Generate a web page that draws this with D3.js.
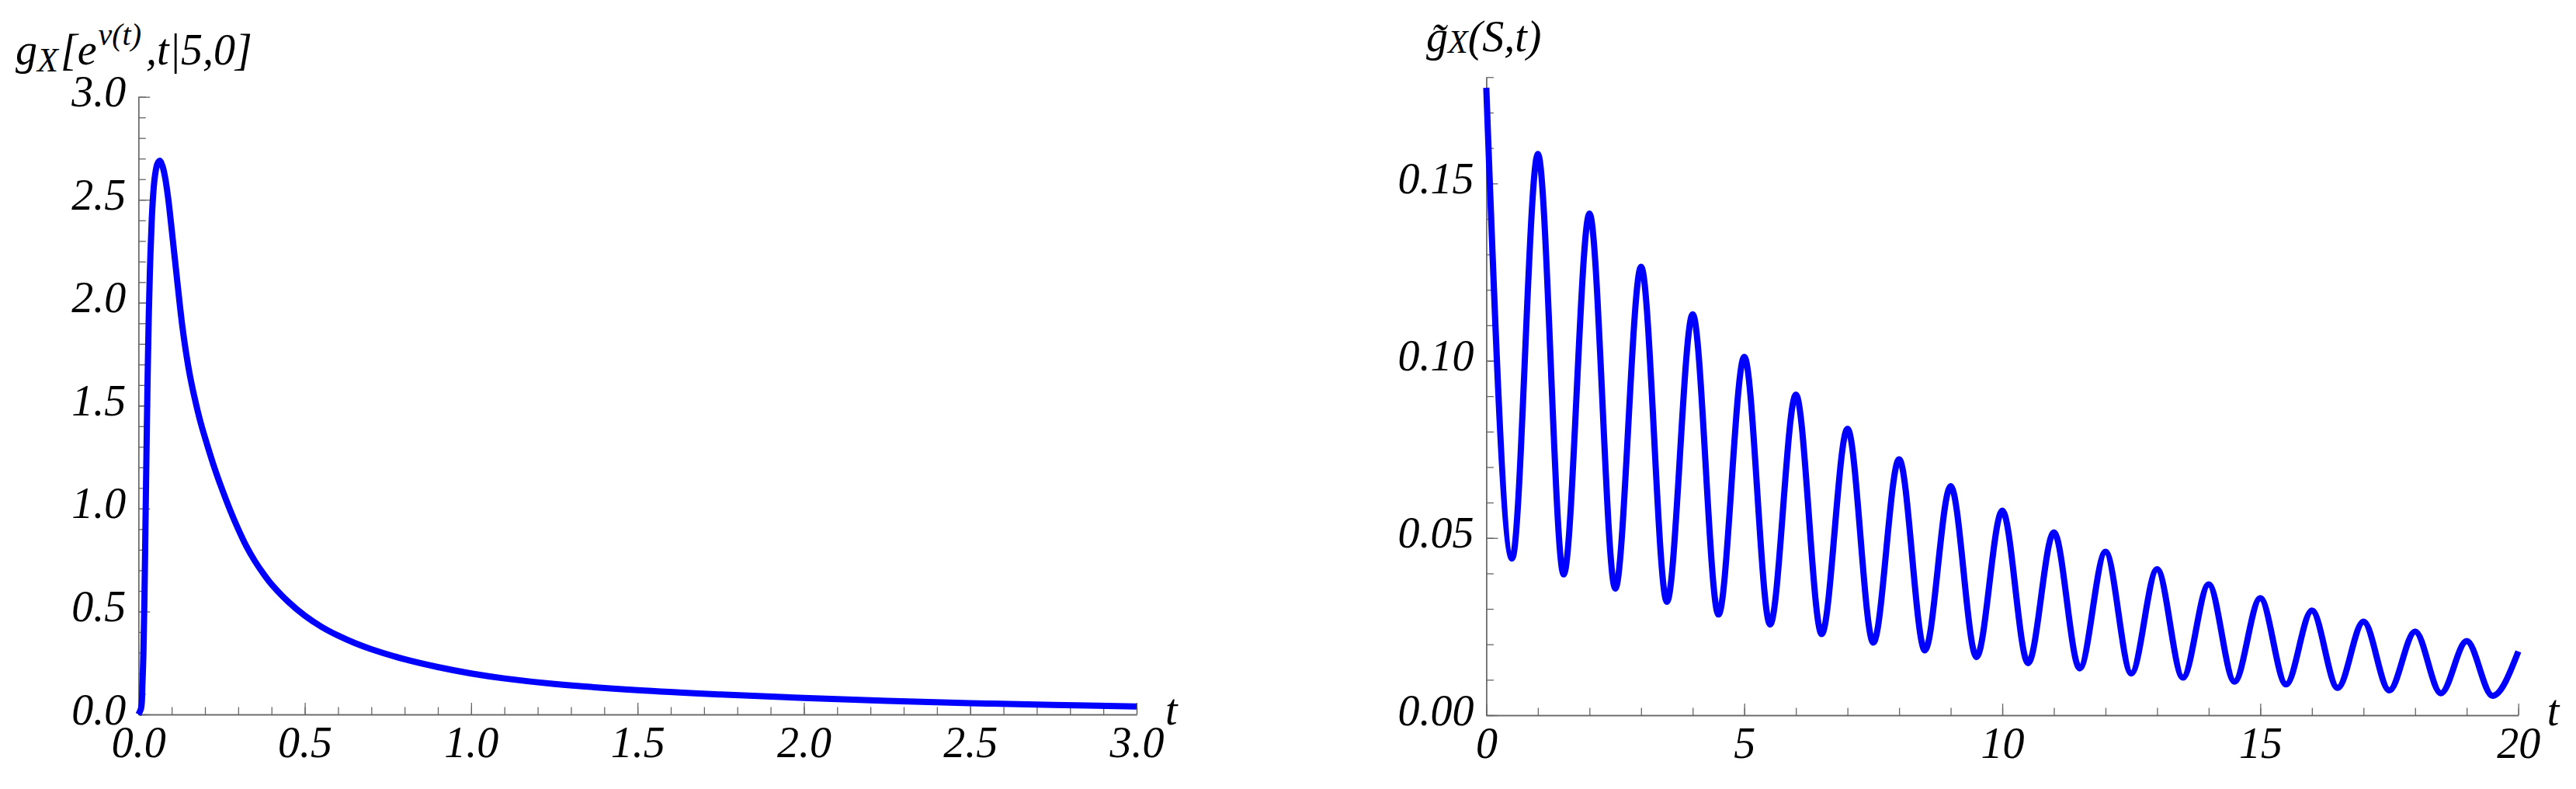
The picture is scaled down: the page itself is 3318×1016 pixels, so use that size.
<html>
<head>
<script src="https://d3js.org/d3.v7.min.js"></script>
<style type="text/css">
  body { margin: 0; background: #fff; }
  text { font-family: "Liberation Serif", "Times New Roman", "DejaVu Serif", serif; font-style: italic; fill: #000; }
</style>
</head>
<body>
<svg id="viz" width="3318" height="1016"></svg>
<script>
// left panel: g_X[e^nu(t), t | 5, 0]
var gxT = [0, 0.008, 0.012, 0.015, 0.018, 0.021, 0.024, 0.027, 0.031, 0.035, 0.040, 0.045, 0.050, 0.057,
           0.064, 0.072, 0.080, 0.090, 0.097, 0.105, 0.113, 0.123, 0.132, 0.142, 0.155, 0.170, 0.185,
           0.200, 0.225, 0.250, 0.275, 0.300, 0.325, 0.350, 0.375, 0.400, 0.450, 0.500, 0.550, 0.600,
           0.650, 0.700, 0.800, 0.900, 1.000, 1.100, 1.250, 1.500, 1.750, 2.000, 2.250, 2.500, 2.750, 3.000];
var gxV = [0, 0.03, 0.15, 0.30, 0.55, 0.90, 1.25, 1.57, 1.93, 2.18, 2.40, 2.54, 2.62, 2.675,
           2.69, 2.665, 2.61, 2.50, 2.40, 2.28, 2.16, 2.01, 1.885, 1.77, 1.645, 1.53, 1.43,
           1.345, 1.215, 1.10, 0.995, 0.90, 0.815, 0.745, 0.685, 0.632, 0.548, 0.480, 0.426, 0.383,
           0.347, 0.317, 0.268, 0.230, 0.199, 0.175, 0.148, 0.118, 0.097, 0.080, 0.066, 0.055, 0.046, 0.039];

// right panel: g~_X(S,t), peaks near integers, troughs near half integers
var gsT = [0, 0.5, 1, 1.5, 2, 2.5, 3, 3.5, 4, 4.5, 5, 5.5, 6, 6.5, 7, 7.5, 8, 8.5, 9, 9.5, 10,
           10.5, 11, 11.5, 12, 12.5, 13, 13.5, 14, 14.5, 15, 15.5, 16, 16.5, 17, 17.5, 18, 18.5, 19, 19.5, 20];
var gsV = [0.177, 0.0442, 0.1583, 0.0397, 0.1415, 0.0357, 0.1265, 0.0320, 0.1131, 0.0284, 0.1011,
           0.0256, 0.0904, 0.0229, 0.0808, 0.0205, 0.0722, 0.0183, 0.0646, 0.0164, 0.0577,
           0.0147, 0.0516, 0.0132, 0.0461, 0.0118, 0.0412, 0.0106, 0.0369, 0.0095, 0.0330,
           0.0087, 0.0295, 0.0077, 0.0264, 0.0070, 0.0236, 0.0062, 0.0209, 0.0055, 0.0180];

var leftXTicks = [0, 0.5, 1, 1.5, 2, 2.5, 3];
var leftYTicks = [0, 0.5, 1, 1.5, 2, 2.5, 3];
var rightXTicks = [0, 5, 10, 15, 20];
var rightYTicks = [0, 0.05, 0.10, 0.15];

var svg = d3.select("#viz");
var axisColor = "#666";

function panel(opt) {
  var x = d3.scaleLinear().domain(opt.xDomain).range(opt.xRange);
  var y = d3.scaleLinear().domain(opt.yDomain).range(opt.yRange);
  var g = svg.append("g");

  // minor ticks
  g.append("g").attr("transform", "translate(0," + opt.yRange[0] + ")")
    .call(d3.axisBottom(x).tickValues(x.ticks(opt.xMinor)).tickSize(-9.5).tickSizeOuter(0).tickFormat(""));
  g.append("g").attr("transform", "translate(" + opt.xRange[0] + ",0)")
    .call(d3.axisLeft(y).tickValues(y.ticks(opt.yMinor)).tickSize(-9.5).tickSizeOuter(0).tickFormat(""));

  // major ticks + labels
  var xa = g.append("g").attr("transform", "translate(0," + opt.yRange[0] + ")")
    .call(d3.axisBottom(x).tickValues(opt.xTicks).tickSize(-15).tickSizeOuter(0).tickFormat(opt.xFmt));
  xa.selectAll("text").attr("y", 55).attr("dy", null);
  var ya = g.append("g").attr("transform", "translate(" + opt.xRange[0] + ",0)")
    .call(d3.axisLeft(y).tickValues(opt.yTicks).tickSize(-15).tickSizeOuter(0).tickFormat(opt.yFmt));
  ya.selectAll("text").attr("x", -16).attr("y", 12).attr("dy", null);

  g.selectAll(".domain, .tick line").attr("stroke", axisColor).attr("stroke-width", 1.3);
  g.selectAll(".tick text")
    .attr("fill", "#000")
    .style("font-family", "'Liberation Serif', 'Times New Roman', serif")
    .style("font-style", "italic")
    .style("font-size", "56px");

  var line = d3.line()
    .x(function(d) { return x(d[0]); })
    .y(function(d) { return y(d[1]); })
    .curve(opt.curve);

  g.append("path")
    .datum(d3.zip(opt.t, opt.v))
    .attr("fill", "none")
    .attr("stroke", "#0000ff")
    .attr("stroke-width", 8)
    .attr("stroke-linejoin", "round")
    .attr("d", line);

  // axis label t
  g.append("text")
    .attr("x", opt.xRange[1] + 37)
    .attr("y", opt.yRange[0] + 13)
    .style("font-size", "56px")
    .text("t");
}

panel({
  xDomain: [0, 3], xRange: [178.3, 1464],
  yDomain: [0, 3], yRange: [920, 124.7],
  xMinor: 30, yMinor: 30,
  xTicks: leftXTicks, yTicks: leftYTicks,
  xFmt: d3.format(".1f"), yFmt: d3.format(".1f"),
  t: gxT, v: gxV, curve: d3.curveCatmullRom.alpha(0.5)
});

panel({
  xDomain: [0, 20], xRange: [1914.4, 3243.7],
  yDomain: [0, 0.18], yRange: [921, 99.3],
  xMinor: 20, yMinor: 18,
  xTicks: rightXTicks, yTicks: rightYTicks,
  xFmt: d3.format("d"), yFmt: d3.format(".2f"),
  t: gsT, v: gsV, curve: d3.curveMonotoneX
});

// titles
var t1 = svg.append("text").attr("x", 20).attr("y", 83).style("font-size", "56px");
t1.append("tspan").text("g");
t1.append("tspan").attr("dy", 9).style("font-size", "44px").text("X");
t1.append("tspan").attr("dy", -9).attr("dx", 3).text("[e");
t1.append("tspan").attr("dy", -25).attr("dx", 2).style("font-size", "40px").text("\u03BD(t)");
t1.append("tspan").attr("dy", 25).attr("dx", 6).text(",t|5,0]");

var t2 = svg.append("text").attr("x", 1837).attr("y", 66).style("font-size", "56px");
t2.append("tspan").text("g");
t2.append("tspan").attr("dy", 2).style("font-size", "42px").text("X");
t2.append("tspan").attr("dy", -2).text("(S,t)");
svg.append("text").attr("x", 1852).attr("y", 70).attr("text-anchor", "middle")
  .style("font-size", "56px").text("\u02DC");
</script>
</body>
</html>
